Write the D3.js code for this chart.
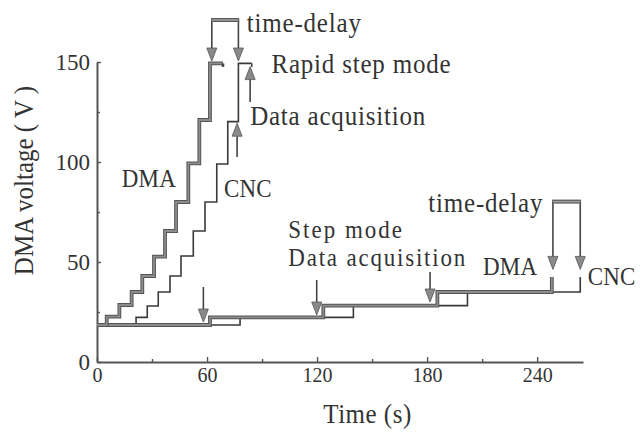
<!DOCTYPE html>
<html>
<head>
<meta charset="utf-8">
<script src="https://cdn.jsdelivr.net/npm/d3@7"></script>
<style>
  html, body { margin: 0; padding: 0; background: #fff; }
  svg { display: block; }
</style>
</head>
<body>
<svg id="chart" width="640" height="437"></svg>
<script>
// ---------------- DATA ----------------
// Rapid step mode: step-edge times (s) and voltage levels (V)
const dmaRapidTimes  = [0, 5.3, 12.2, 18.9, 24.7, 31.1, 37.1, 43.1, 49.8, 55.8, 61.6, 68.7];
const dmaRapidLevels = [18.5, 22.7, 28.5, 35, 43, 52.7, 65.5, 80, 99.3, 121, 149.3, 149.3];
const cncRapidTimes  = [0, 21.3, 27.4, 33.4, 39.8, 45.8, 52.5, 58.9, 65.3, 71.3, 77.1, 84.4];
const cncRapidLevels = [18.5, 22.3, 28, 35, 43, 53, 65.5, 80, 99, 120.2, 149.3, 149.3];
// Step mode
const dmaStepTimes  = [0, 61.6, 123.4, 185.6, 248, 248];
const dmaStepLevels = [18.5, 22.3, 28.2, 35, 35, 42.5];
const cncStepTimes  = [0, 78, 139.8, 202, 263.5, 263.5];
const cncStepLevels = [18.5, 22.3, 28.2, 35, 35, 42.5];
// Axis ticks
const xTicks = [0, 60, 120, 180, 240];
const xMinorTicks = [30, 90, 150, 210];
const yTicks = [0, 50, 100, 150];
const yMinorTicks = [25, 75, 125];
// Annotation arrows (time, from-voltage, to-voltage)
const stepArrows  = [[58, 37.5, 20], [119.8, 41, 23.5], [181.6, 45, 30]];
const rapidUpArrows = [[83.5, 130, 147.7], [76.4, 102.5, 119.4]];
const delayBrackets = [[62.6, 77.1, 171, 150.5], [248.6, 263.5, 80.2, 46.3]];
// Texts
const labels = [
  {text: "time-delay", t: 81.7, v: 165, anchor: "start", size: 25, s: 1.12, ls: 0.8},
  {text: "Rapid step mode", t: 95.1, v: 144.3, anchor: "start", size: 25, s: 1.12, ls: 0.8},
  {text: "Data acquisition", t: 83.5, v: 118.5, anchor: "start", size: 25, s: 1.12, ls: 0.8},
  {text: "DMA", t: 13.5, v: 87.6, anchor: "start", size: 23, s: 1.12, ls: 0.2},
  {text: "CNC", t: 69.2, v: 82.6, anchor: "start", size: 23, s: 1.12, ls: 0.2},
  {text: "Step mode", t: 104.3, v: 62, anchor: "start", size: 23, s: 1.08, ls: 2.0},
  {text: "Data acquisition", t: 104.3, v: 48, anchor: "start", size: 23, s: 1.08, ls: 1.8},
  {text: "time-delay", t: 243.3, v: 75.2, anchor: "end", size: 25, s: 1.12, ls: 0.8},
  {text: "DMA", t: 210.5, v: 43.5, anchor: "start", size: 23, s: 1.12, ls: 0.2},
  {text: "CNC", t: 267.6, v: 38.5, anchor: "start", size: 23, s: 1.12, ls: 0.2}
];

// ---------------- DRAWING ----------------
const svg = d3.select("#chart");
const FONT = "'Liberation Serif', 'Times New Roman', serif";
const x = d3.scaleLinear().domain([0, 265]).range([97, 583]);
const y = d3.scaleLinear().domain([0, 150]).range([362, 62]);
const STRETCH = 1.12;

// axes
const gx = svg.append("g").attr("transform", `translate(0,${y(0)})`)
  .call(d3.axisBottom(x).tickValues(xTicks).tickSizeInner(-5).tickSizeOuter(0).tickPadding(5.5));
gx.selectAll("text").attr("font-size", 20).attr("font-family", FONT).attr("fill", "#333");
const gxm = svg.append("g").attr("transform", `translate(0,${y(0)})`)
  .call(d3.axisBottom(x).tickValues(xMinorTicks).tickSizeInner(-3).tickFormat(""));
gxm.select(".domain").remove();

const gy = svg.append("g").attr("transform", `translate(${x(0)},0)`)
  .call(d3.axisLeft(y).tickValues(yTicks).tickSizeInner(-4).tickSizeOuter(0).tickPadding(7));
gy.selectAll("text").attr("font-size", 23).attr("font-family", FONT).attr("fill", "#333");
const gym = svg.append("g").attr("transform", `translate(${x(0)},0)`)
  .call(d3.axisLeft(y).tickValues(yMinorTicks).tickSizeInner(-3).tickFormat(""));
gym.select(".domain").remove();

svg.selectAll(".domain").attr("stroke", "#555").attr("stroke-width", 2);
svg.selectAll(".tick line").attr("stroke", "#555").attr("stroke-width", 1.4);

// axis titles
svg.append("text").attr("transform", `translate(367.5,423) scale(1,${STRETCH})`).attr("text-anchor", "middle")
  .attr("font-family", FONT).attr("font-size", 25).attr("fill", "#333").attr("letter-spacing", 0.5)
  .text("Time (s)");
svg.append("text").attr("transform", `translate(33,180.5) rotate(-90) scale(1,${STRETCH})`).attr("text-anchor", "middle")
  .attr("font-family", FONT).attr("font-size", 25).attr("fill", "#333")
  .text("DMA voltage ( V )");

// step lines
const stepLine = d3.line().x(d => x(d[0])).y(d => y(d[1])).curve(d3.curveStepAfter);
const zip = (a, b) => a.map((t, i) => [t, b[i]]);

function drawCNC(times, levels) {
  svg.append("path").attr("d", stepLine(zip(times, levels)))
    .attr("fill", "none").attr("stroke", "#3a3a3a").attr("stroke-width", 1.6);
}
function drawDMA(times, levels) {
  const d = stepLine(zip(times, levels));
  svg.append("path").attr("d", d).attr("fill", "none").attr("stroke", "#555").attr("stroke-width", 3.8);
  svg.append("path").attr("d", d).attr("fill", "none").attr("stroke", "#8c8c8c").attr("stroke-width", 1.8);
}
drawCNC(cncStepTimes, cncStepLevels);
drawCNC(cncRapidTimes, cncRapidLevels);
drawDMA(dmaStepTimes, dmaStepLevels);
drawDMA(dmaRapidTimes, dmaRapidLevels);

// small end hooks on the rapid top steps
[[dmaRapidTimes, dmaRapidLevels, 2.6], [cncRapidTimes, cncRapidLevels, 1.6]].forEach(([t, l, w]) => {
  const tx = x(t[t.length - 1]), ty = y(l[l.length - 1]);
  svg.append("line").attr("x1", tx).attr("x2", tx).attr("y1", ty).attr("y2", ty + 3.5)
    .attr("stroke", "#444").attr("stroke-width", w);
});

// arrow helper
function arrow(t, v0, v1) {
  const px = x(t), y0 = y(v0), y1 = y(v1);
  const dir = y1 > y0 ? 1 : -1;
  const hh = 13, hw = 5;
  svg.append("line").attr("x1", px).attr("x2", px).attr("y1", y0).attr("y2", y1 - dir * hh)
    .attr("stroke", "#444").attr("stroke-width", 1.6);
  svg.append("path")
    .attr("d", `M${px},${y1} L${px - hw},${y1 - dir * hh} L${px + hw},${y1 - dir * hh} Z`)
    .attr("fill", "#8a8a8a").attr("stroke", "#555").attr("stroke-width", 0.8);
}
stepArrows.forEach(a => arrow(a[0], a[1], a[2]));
rapidUpArrows.forEach(a => arrow(a[0], a[1], a[2]));

delayBrackets.forEach(([t0, t1, vTop, vTip]) => {
  arrow(t0, vTop, vTip);
  arrow(t1, vTop, vTip);
  const yt = y(vTop);
  svg.append("line").attr("x1", x(t0) - 0.8).attr("x2", x(t1) + 0.8).attr("y1", yt).attr("y2", yt)
    .attr("stroke", "#5a5a5a").attr("stroke-width", 4);
  svg.append("line").attr("x1", x(t0)).attr("x2", x(t1)).attr("y1", yt).attr("y2", yt)
    .attr("stroke", "#a0a0a0").attr("stroke-width", 1.6);
});

// labels
svg.selectAll("text.lbl").data(labels).enter().append("text").attr("class", "lbl")
  .attr("transform", d => `translate(${x(d.t)},${y(d.v)}) scale(1,${d.s})`)
  .attr("text-anchor", d => d.anchor)
  .attr("font-family", FONT).attr("font-size", d => d.size)
  .attr("letter-spacing", d => d.ls).attr("fill", "#333")
  .text(d => d.text);
</script>
</body>
</html>
